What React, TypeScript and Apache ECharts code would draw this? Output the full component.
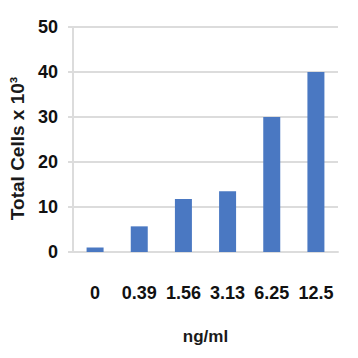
import React, { useEffect, useRef } from "react";
import * as echarts from "echarts";

const categories = ["0", "0.39", "1.56", "3.13", "6.25", "12.5"];
const totalCells = [1.0, 5.7, 11.8, 13.5, 30, 40];
const yTicks = { min: 0, max: 50, interval: 10 };
const xAxisName = "ng/ml";
const yAxisName = "Total Cells x 10³";

const FONT = "'Liberation Sans', Arial, sans-serif";
const GRID_COLOR = "#dcdcdc";

export default function App() {
  const ref = useRef<HTMLDivElement>(null);
  useEffect(() => {
    if (!ref.current) return;
    const chart = echarts.init(ref.current, undefined, { renderer: "svg" });
    chart.setOption({
      animation: false,
      backgroundColor: "#ffffff",
      grid: { left: 73, right: 20, top: 27, bottom: 106, containLabel: false },
      xAxis: {
        type: "category",
        data: categories,
        name: xAxisName,
        nameLocation: "middle",
        nameGap: 76,
        nameTextStyle: { fontFamily: FONT, fontWeight: "bold", fontSize: 17, color: "#1a1a1a" },
        axisLine: { show: true, lineStyle: { color: GRID_COLOR, width: 2 } },
        axisTick: { show: false },
        axisLabel: { interval: 0, margin: 32, fontFamily: FONT, fontWeight: "bold", fontSize: 18, color: "#111" },
      },
      yAxis: {
        type: "value",
        min: yTicks.min,
        max: yTicks.max,
        interval: yTicks.interval,
        name: yAxisName,
        nameLocation: "middle",
        nameRotate: 90,
        nameGap: 46,
        nameTextStyle: { fontFamily: FONT, fontWeight: "bold", fontSize: 19, color: "#1a1a1a", padding: [0, 18, 0, 0] },
        axisLine: { show: true, lineStyle: { color: GRID_COLOR, width: 2 } },
        axisTick: { show: true, length: 5, lineStyle: { color: GRID_COLOR, width: 2 } },
        axisLabel: { margin: 15, fontFamily: FONT, fontWeight: "bold", fontSize: 18, color: "#111" },
        splitLine: { show: true, lineStyle: { color: GRID_COLOR, width: 2 } },
      },
      series: [
        {
          type: "bar",
          data: totalCells,
          barWidth: 17,
          itemStyle: { color: "#4a78c2" },
        },
      ],
    });
    return () => chart.dispose();
  }, []);
  return <div ref={ref} style={{ width: 358, height: 358, position: "absolute", left: 0, top: 0 }} />;
}
